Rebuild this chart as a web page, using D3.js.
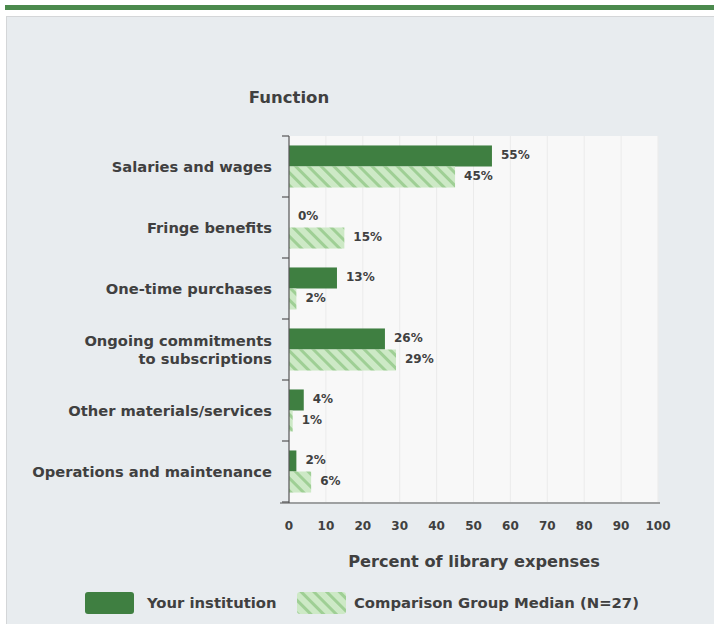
<!DOCTYPE html>
<html>
<head>
<meta charset="utf-8">
<script src="https://cdn.jsdelivr.net/npm/d3@7"></script>
<style>
  html, body { margin: 0; padding: 0; background: #ffffff; }
  svg { display: block; font-family: "DejaVu Sans", Verdana, sans-serif; }
</style>
</head>
<body>
<svg id="chart" width="714" height="624"></svg>
<script>
const categories = [
  ["Salaries and wages"],
  ["Fringe benefits"],
  ["One-time purchases"],
  ["Ongoing commitments", "to subscriptions"],
  ["Other materials/services"],
  ["Operations and maintenance"]
];
const yourInstitution = [55, 0, 13, 26, 4, 2];
const comparisonMedian = [45, 15, 2, 29, 1, 6];
const xTicks = [0, 10, 20, 30, 40, 50, 60, 70, 80, 90, 100];
const seriesNames = ["Your institution", "Comparison Group Median (N=27)"];

const svg = d3.select("#chart");
const textColor = "#404040";
const darkGreen = "#3f7f41";

// defs: hatch pattern
const defs = svg.append("defs");
const pat = defs.append("pattern")
  .attr("id", "hatch").attr("patternUnits", "userSpaceOnUse")
  .attr("width", 9).attr("height", 9)
  .attr("patternTransform", "rotate(-45)");
pat.append("rect").attr("width", 9).attr("height", 9).attr("fill", "#cde9c6");
pat.append("rect").attr("x", 0).attr("y", 0).attr("width", 3).attr("height", 9).attr("fill", "#9fcf95");

// top green rule
svg.append("rect").attr("x", 5).attr("y", 5).attr("width", 709).attr("height", 5).attr("fill", "#4b8a4d");
// panel
svg.append("rect").attr("x", 6.5).attr("y", 16.5).attr("width", 720).attr("height", 620)
  .attr("fill", "#e8ecef").attr("stroke", "#d4d6d8");

const x = d3.scaleLinear().domain([0, 100]).range([289, 658]);
const y = d3.scaleBand().domain(d3.range(categories.length)).range([136, 502]);
const ySub = d3.scaleBand().domain([0, 1]).range([0, y.bandwidth()]).paddingOuter(0.45);

// plot background
svg.append("rect").attr("x", x(0)).attr("y", 136).attr("width", x(100) - x(0)).attr("height", 502 - 136)
  .attr("fill", "#f8f8f8");
// gridlines
svg.append("g").selectAll("line").data(xTicks.slice(1)).join("line")
  .attr("x1", d => x(d)).attr("x2", d => x(d))
  .attr("y1", 136).attr("y2", 502)
  .attr("stroke", "#ebebeb").attr("stroke-width", 1);

// bars
const series = [yourInstitution, comparisonMedian];
series.forEach((vals, si) => {
  const g = svg.append("g");
  g.selectAll("rect").data(vals).join("rect")
    .attr("x", x(0))
    .attr("y", (d, i) => y(i) + ySub(si))
    .attr("width", d => x(d) - x(0))
    .attr("height", ySub.bandwidth())
    .attr("fill", si === 0 ? darkGreen : "url(#hatch)");
  g.selectAll("text").data(vals).join("text")
    .attr("x", d => x(d) + 9)
    .attr("y", (d, i) => y(i) + ySub(si) + ySub.bandwidth() / 2 - 1)
    .attr("dy", "0.35em")
    .attr("font-size", 12).attr("font-weight", "bold").attr("fill", textColor)
    .text(d => d + "%");
});

// y axis
const yAxis = svg.append("g");
yAxis.append("line").attr("x1", x(0)).attr("x2", x(0)).attr("y1", 136).attr("y2", 503)
  .attr("stroke", "#555").attr("stroke-width", 1.2);
yAxis.selectAll("line.tick").data(d3.range(categories.length + 1)).join("line").attr("class", "tick")
  .attr("x1", x(0) - 7).attr("x2", x(0))
  .attr("y1", i => 136 + i * y.step()).attr("y2", i => 136 + i * y.step())
  .attr("stroke", "#555").attr("stroke-width", 1.2);
categories.forEach((lines, i) => {
  const cy = y(i) + y.bandwidth() / 2;
  const t = svg.append("text").attr("text-anchor", "end")
    .attr("font-size", 14.7).attr("font-weight", "bold").attr("fill", textColor);
  lines.forEach((ln, k) => {
    t.append("tspan").attr("x", 272)
      .attr("y", cy + (k - (lines.length - 1) / 2) * 18)
      .attr("dy", "0.35em").text(ln);
  });
});

// x axis
svg.append("line").attr("x1", 280).attr("x2", 660).attr("y1", 503).attr("y2", 503)
  .attr("stroke", "#555").attr("stroke-width", 1.2);
svg.append("g").selectAll("text").data(xTicks).join("text")
  .attr("x", d => x(d)).attr("y", 526).attr("dy", "0.35em")
  .attr("text-anchor", "middle").attr("font-size", 12).attr("font-weight", "bold").attr("fill", textColor)
  .text(d => d);

// titles
svg.append("text").attr("x", 289).attr("y", 97).attr("dy", "0.35em").attr("text-anchor", "middle")
  .attr("font-size", 16.5).attr("font-weight", "bold").attr("fill", textColor).text("Function");
svg.append("text").attr("x", 474).attr("y", 561).attr("dy", "0.35em").attr("text-anchor", "middle")
  .attr("font-size", 16.2).attr("font-weight", "bold").attr("fill", textColor).text("Percent of library expenses");

// legend
const legend = [
  { x: 85, fill: darkGreen, tx: 147 },
  { x: 297, fill: "url(#hatch)", tx: 354 }
];
legend.forEach((l, i) => {
  svg.append("rect").attr("x", l.x).attr("y", 592).attr("width", 49).attr("height", 22).attr("rx", 3)
    .attr("fill", l.fill);
  svg.append("text").attr("x", l.tx).attr("y", 603).attr("dy", "0.35em")
    .attr("font-size", 14.8).attr("font-weight", "bold").attr("fill", textColor).text(seriesNames[i]);
});
</script>
</body>
</html>
